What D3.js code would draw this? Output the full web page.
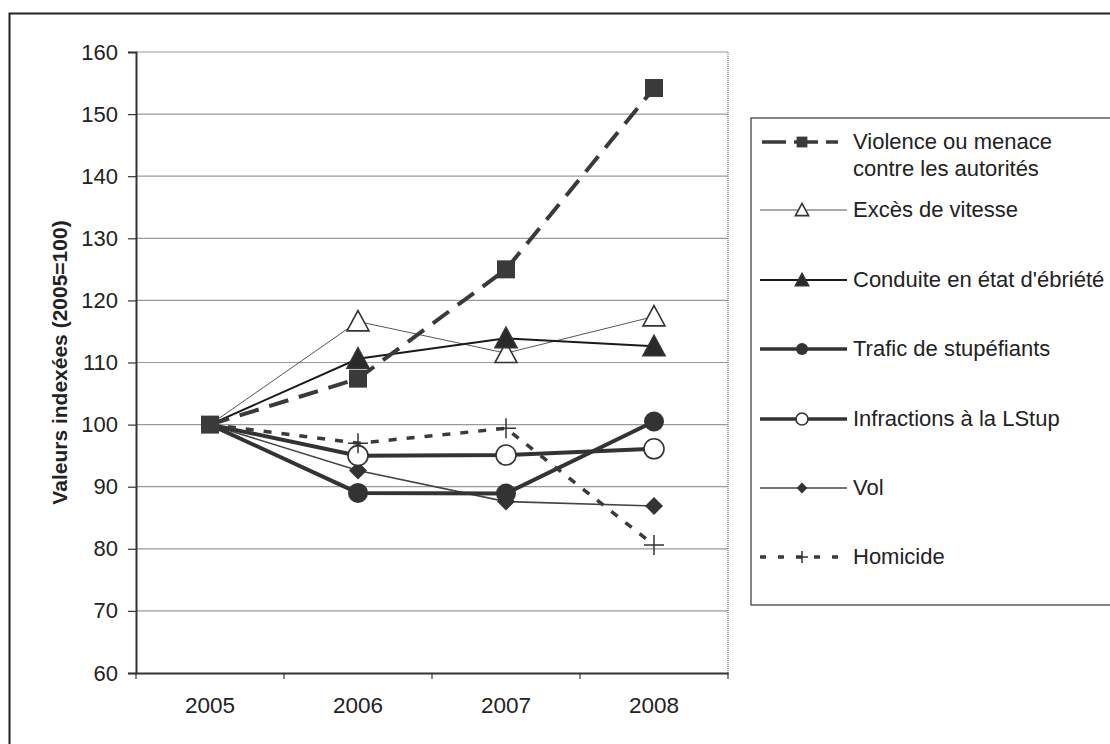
<!DOCTYPE html>
<html><head><meta charset="utf-8">
<script src="https://cdn.jsdelivr.net/npm/d3@7"></script>
<style>body{margin:0;background:#fff}svg{display:block}text{font-family:"Liberation Sans",Arial,sans-serif;fill:#222}</style>
</head><body>
<script>
const years = ["2005","2006","2007","2008"];
const yTicks = [60,70,80,90,100,110,120,130,140,150,160];
const violence = [100,107.4,125,154.2];
const exces = [100,116.6,111.5,117.4];
const conduite = [100,110.6,113.9,112.6];
const trafic = [100,89,88.9,100.5];
const lstup = [100,95,95.1,96.1];
const vol = [100,92.6,87.6,86.9];
const homicide = [100,97,99.4,80.6];
const names = ["Violence ou menace|contre les autorités","Excès de vitesse","Conduite en état d'ébriété","Trafic de stupéfiants","Infractions à la LStup","Vol","Homicide"];

const W=1110,H=744;
const svg=d3.select("body").append("svg").attr("width",W).attr("height",H);
svg.append("path").attr("d","M9.5,744 V13.5 H1110").attr("fill","none").attr("stroke","#222").attr("stroke-width",2);

const L=136,R=728,T=52,B=673;
const x=d3.scaleBand().domain(years).range([L,R]);
const y=d3.scaleLinear().domain([60,160]).range([B,T]);

svg.append("g").selectAll("line").data(yTicks.slice(1)).join("line")
 .attr("x1",L).attr("x2",R).attr("y1",d=>y(d)).attr("y2",d=>y(d)).attr("stroke","#999").attr("stroke-width",1.2);
svg.append("line").attr("x1",R).attr("x2",R).attr("y1",T).attr("y2",B).attr("stroke","#888").attr("stroke-dasharray","1,1").attr("stroke-width",1.5);

const ya=svg.append("g").attr("transform",`translate(${L},0)`).call(d3.axisLeft(y).tickValues(yTicks).tickSize(8).tickPadding(10));
const xa=svg.append("g").attr("transform",`translate(0,${B})`).call(d3.axisBottom(x).tickSize(0).tickPadding(24));
xa.append("g").selectAll("line").data(d3.range(years.length+1)).join("line")
 .attr("x1",i=>L+i*x.step()).attr("x2",i=>L+i*x.step()).attr("y1",0).attr("y2",6).attr("stroke","#333").attr("stroke-width",1.2);
[ya,xa].forEach(a=>{a.selectAll(".domain").attr("stroke","#333").attr("stroke-width",2);a.selectAll(".tick line").attr("stroke","#333").attr("stroke-width",1.2);a.selectAll("text").attr("fill","#222").attr("font-family","'Liberation Sans',Arial,sans-serif");});
ya.selectAll("text").attr("font-size",22);
xa.selectAll("text").attr("font-size",22.5);

svg.append("text").attr("transform",`translate(67,${(T+B)/2}) rotate(-90)`).attr("text-anchor","middle")
 .attr("font-size",21).attr("font-weight","bold").text("Valeurs indexées (2005=100)");

const series=[
 {v:violence,stroke:"#3a3a3a",w:4,dash:"20,11",m:"square"},
 {v:exces,stroke:"#555",w:1,dash:null,m:"triOpen"},
 {v:conduite,stroke:"#1a1a1a",w:2,dash:null,m:"tri"},
 {v:trafic,stroke:"#333",w:4,dash:null,m:"circle"},
 {v:lstup,stroke:"#333",w:4,dash:null,m:"circleOpen"},
 {v:vol,stroke:"#444",w:1.6,dash:null,m:"diamond"},
 {v:homicide,stroke:"#3a3a3a",w:3.5,dash:"8,10",m:"plus"}
];
function marker(g,type,cx,cy,s){
 const k=s||1;
 if(type==="square") g.append("rect").attr("x",cx-9*k).attr("y",cy-9*k).attr("width",18*k).attr("height",18*k).attr("fill","#3a3a3a");
 if(type==="triOpen"||type==="tri"){const r=11*k;g.append("path").attr("d",`M${cx},${cy-r} L${cx+r},${cy+r*0.85} L${cx-r},${cy+r*0.85}Z`).attr("fill",type==="tri"?"#2a2a2a":"#fff").attr("stroke","#333").attr("stroke-width",1.6);}
 if(type==="circle") g.append("circle").attr("cx",cx).attr("cy",cy).attr("r",10*k).attr("fill","#333");
 if(type==="circleOpen") g.append("circle").attr("cx",cx).attr("cy",cy).attr("r",10*k).attr("fill","#fff").attr("stroke","#333").attr("stroke-width",1.6);
 if(type==="diamond"){const r=9*k;g.append("path").attr("d",`M${cx},${cy-r} L${cx+r},${cy} L${cx},${cy+r} L${cx-r},${cy}Z`).attr("fill","#333");}
 if(type==="plus"){const r=10*k;g.append("path").attr("d",`M${cx-r},${cy} H${cx+r} M${cx},${cy-r} V${cy+r}`).attr("stroke","#333").attr("stroke-width",1.5);}
}
const line=d3.line().x((d,i)=>x(years[i])+x.bandwidth()/2).y(d=>y(d));
const order=[1,2,0,5,3,4,6];
order.forEach(si=>{const s=series[si];
 svg.append("path").attr("d",line(s.v)).attr("fill","none").attr("stroke",s.stroke).attr("stroke-width",s.w).attr("stroke-dasharray",s.dash);
});
const morder=[1,5,3,4,6,0,2];
morder.forEach(si=>{const s=series[si];const g=svg.append("g");
 s.v.forEach((d,i)=>{ if(si!==0 && i===0) return; marker(g,s.m,x(years[i])+x.bandwidth()/2,y(d)); });
});

// legend
svg.append("rect").attr("x",751).attr("y",118).attr("width",400).attr("height",487).attr("fill","#fff").attr("stroke","#444").attr("stroke-width",1.3);
const ly=[142,210,280,349,419,488,557];
series.forEach((s,i)=>{
 const g=svg.append("g");
 g.append("line").attr("x1",i===0?762:760).attr("x2",i===0?838:847).attr("y1",ly[i]).attr("y2",ly[i]).attr("stroke",s.stroke).attr("stroke-width",Math.min(s.w,3.5)).attr("stroke-dasharray",s.dash?(i===0?"24,8":"6,12"):null);
 marker(g,s.m,802,ly[i],0.6);
 const parts=names[i].split("|");
 parts.forEach((p,j)=>g.append("text").attr("x",853).attr("y",ly[i]+7+j*27).attr("font-size",22).text(p));
});
</script>
</body></html>
